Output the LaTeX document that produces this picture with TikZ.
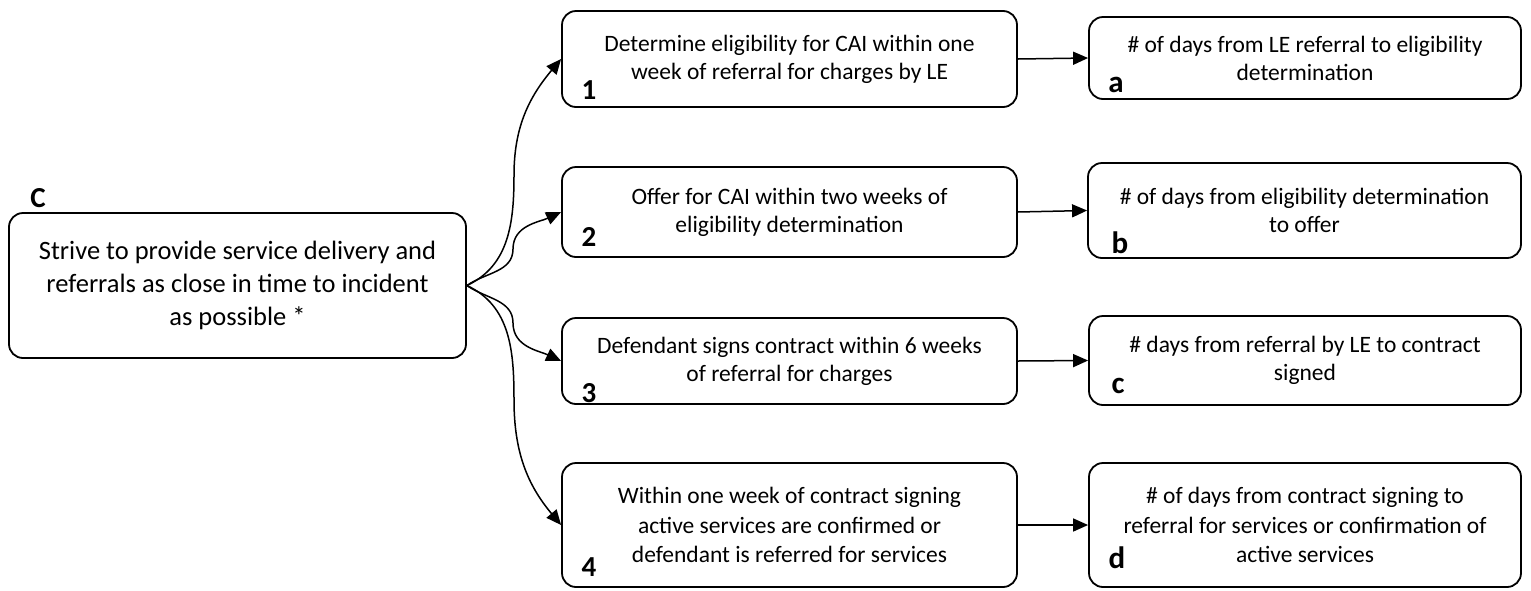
\documentclass[tikz,border=0pt]{standalone}
\usepackage{fontspec}
\setmainfont{Carlito}
\usetikzlibrary{arrows.meta}
\begin{document}
\begin{tikzpicture}[x=1pt,y=1pt,
  box/.style={draw=black, line width=1.8pt, rounded corners=14pt, align=center, inner sep=0pt,
    font=\fontsize{23.5}{28}\selectfont},
  tallbox/.style={box, font=\fontsize{23.5}{29.5}\selectfont},
  bigbox/.style={box, font=\fontsize{26.5}{33}\selectfont},
  lab/.style={font=\fontsize{29}{29}\selectfont\bfseries, inner sep=0pt},
  letlab/.style={font=\fontsize{31}{31}\selectfont\bfseries, inner sep=0pt},
  arr/.style={line width=1.5pt, -{Triangle[length=15pt,width=13pt]}}]
\useasboundingbox (0,0) rectangle (1531,-590);
% main box
\node[bigbox, minimum width=457pt, minimum height=145pt] (C) at (237.5,-285.5)
  {Strive to provide service delivery and\\referrals as close in time to incident\\as possible *};
\node[lab] (Clab) at (38,-198) {C};
% middle boxes
\node[box, minimum width=455pt, minimum height=96pt] (n1) at (789.5,-59)
  {Determine eligibility for CAI within one\\week of referral for charges by LE};
\node[box, minimum width=455pt, minimum height=90pt] (n2) at (789.5,-212)
  {Offer for CAI within two weeks of\\eligibility determination};
\node[box, minimum width=455pt, minimum height=86pt] (n3) at (789.5,-361)
  {Defendant signs contract within 6 weeks\\of referral for charges};
\node[tallbox, minimum width=455pt, minimum height=124pt] (n4) at (789.5,-525)
  {Within one week of contract signing\\active services are confirmed or\\defendant is referred for services};
\node[lab] (l1) at (589,-90) {1};
\node[lab] (l2) at (589,-237) {2};
\node[lab] (l3) at (589,-393) {3};
\node[lab] (l4) at (589,-567) {4};
% right boxes
\node[box, minimum width=432pt, minimum height=82pt] (na) at (1305,-58)
  {\# of days from LE referral to eligibility\\determination};
\node[box, minimum width=433pt, minimum height=95pt] (nb) at (1304.5,-210.5)
  {\# of days from eligibility determination\\to offer};
\node[box, minimum width=432pt, minimum height=89pt] (nc) at (1305,-360.5)
  {\# days from referral by LE to contract\\signed};
\node[tallbox, minimum width=432pt, minimum height=124pt] (nd) at (1305,-525)
  {\# of days from contract signing to\\referral for services or confirmation of\\active services};
\node[letlab] (la) at (1116,-85) {a};
\node[letlab] (lb) at (1120,-243) {b};
\node[letlab] (lc) at (1118,-386) {c};
\node[letlab] (ld) at (1117,-558) {d};
% waypoints of the curved connectors
\coordinate (w1) at (514,-175);
\coordinate (w2) at (513,-249);
\coordinate (w3) at (513,-323);
\coordinate (w4) at (514,-400);
% connectors
\draw[arr] (C.east) to[out=25,in=270] (w1) to[out=90,in=230] (n1.west);
\draw[arr] (C.east) to[out=35,in=270] (w2) to[out=90,in=205] (n2.west);
\draw[arr] (C.east) to[out=-35,in=90] (w3) to[out=-90,in=155] (n3.west);
\draw[arr] (C.east) to[out=-25,in=90] (w4) to[out=-90,in=130] (n4.west);
\draw[arr] (n1.east) -- (na.west);
\draw[arr] (n2.east) -- (nb.west);
\draw[arr] (n3.east) -- (nc.west);
\draw[arr] (n4.east) -- (nd.west);
\end{tikzpicture}
\end{document}
